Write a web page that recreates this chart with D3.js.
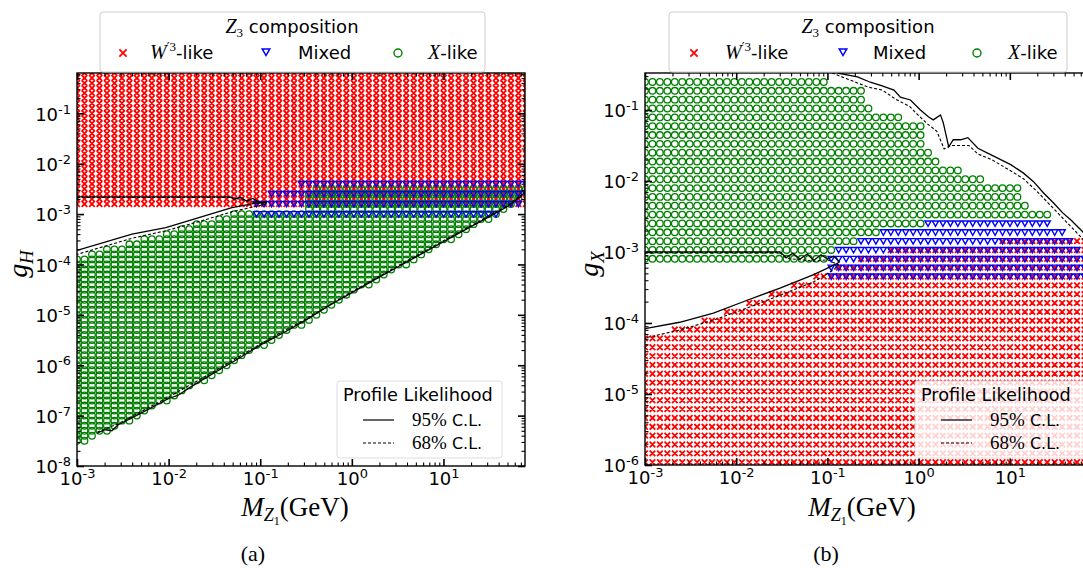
<!DOCTYPE html>
<html>
<head>
<meta charset="utf-8">
<script src="https://cdn.jsdelivr.net/npm/d3@7"></script>
<style>
  body { margin: 0; background: #fff; }
  svg { display: block; }
</style>
</head>
<body>
<svg width="1083" height="568"></svg>
<script>
// ---- scan lattice (log10 values) ----
var massExp = [-3, 1.9];          // log10 M_Z1 / GeV, first and last scan column
var massCols = 61;
var couplingRowsA = {from: -7.6, to: -0.2, step: 0.1};
var couplingRowsB = {from: -5.96, to: -0.6, step: 0.1245};

// ---- panel (a): region edges, [log10 M, log10 gH] ----
var aWLow   = [[-3.05, -2.85], [1.95, -2.85]];
var aWHigh  = [[-3.05, -0.15], [1.95, -0.15]];
var aXLow   = [[-3.05, -7.62], [-2.85, -7.52], [-2.78, -7.4], [-2.6, -7.28], [-2.0, -6.7], [-1.5, -6.2],
               [-1.0, -5.65], [-0.5, -5.15], [0, -4.6], [0.5, -4.1], [1.0, -3.6], [1.5, -3.1],
               [1.7, -2.9], [1.85, -2.68], [1.95, -2.5]];
var aXHigh  = [[-3.05, -3.88], [-2.4, -3.55], [-1.7, -3.2], [-1.3, -3.0], [-0.95, -2.9], [-0.5, -2.9],
               [-0.45, -2.4], [1.95, -2.4]];
var aMixLow  = [[-1.1, -3.05], [1.35, -3.05], [1.6, -3.0], [1.75, -2.9], [1.95, -2.75]];
var aMixHigh = [[-1.1, -2.75], [-0.95, -2.62], [-0.7, -2.5], [-0.5, -2.35], [1.95, -2.35]];

var aCL95 = [[-3, -2.66], [-1.33, -2.66], [-1.28, -2.71], [-1.22, -2.66], [-1.15, -2.74], [-1.08, -2.69],
             [-1.0, -2.78], [-0.93, -2.76], [-1.01, -2.77], [-1.31, -2.87], [-1.67, -3.07],
             [-2.03, -3.27], [-2.4, -3.4], [-3, -3.72]];
var aCL68 = [[-3, -2.67], [-1.33, -2.67], [-1.2, -2.71], [-1.0, -2.8], [-0.93, -2.8], [-1.3, -2.95],
             [-1.67, -3.15], [-2.03, -3.33], [-2.4, -3.48], [-3, -3.8]];
var aCL95Low = [[-2.78, -7.35], [-2.7, -7.28], [-2.62, -7.3], [-2.55, -7.18], [-2.3, -6.95], [-2.0, -6.66],
                [-1.9, -6.6], [-1.75, -6.42], [-1.5, -6.15], [-1.25, -5.88], [-1.0, -5.6], [-0.75, -5.36],
                [-0.5, -5.1], [-0.25, -4.82], [0.0, -4.56], [0.25, -4.3], [0.5, -4.05], [0.75, -3.8],
                [1.0, -3.55], [1.25, -3.3], [1.5, -3.05], [1.7, -2.85], [1.85, -2.64], [1.9, -2.55]];
var aCL68Low = [[-2.78, -7.33], [-2.55, -7.16], [-2.0, -6.63], [-1.5, -6.12], [-1.0, -5.58], [-0.5, -5.08],
                [0.0, -4.54], [0.5, -4.03], [1.0, -3.53], [1.5, -3.03], [1.7, -2.83], [1.85, -2.62], [1.9, -2.53]];

// ---- panel (b): [log10 M, log10 gX] ----
var bWLow   = [[-3.05, -6.1], [1.95, -6.1]];
var bWHigh  = [[-3.05, -4.18], [-2.62, -4.06], [-2.29, -3.94], [-2.14, -3.82], [-1.81, -3.68], [-1.55, -3.56],
               [-1.37, -3.45], [-1.15, -3.33], [-0.89, -3.2], [-0.58, -3.07], [-0.34, -2.95], [0.85, -2.95],
               [0.9, -2.82], [1.95, -2.82]];
var bXLow   = [[-3.05, -3.15], [-0.97, -3.15], [-0.95, -3.03], [-0.89, -3.03], [-0.87, -2.9], [-0.64, -2.9],
               [-0.62, -2.77], [-0.4, -2.77], [-0.38, -2.65], [0.08, -2.65], [0.1, -2.52], [1.95, -2.52]];
var bXHigh  = [[-3.05, -0.5], [-1.02, -0.5], [-0.95, -0.72], [-0.62, -0.72], [-0.58, -0.97], [-0.53, -0.97],
               [-0.48, -1.1], [-0.2, -1.1], [-0.15, -1.22], [0.04, -1.22], [0.09, -1.48], [0.16, -1.48],
               [0.21, -1.73], [0.44, -1.73], [0.49, -1.86], [0.66, -1.86], [0.7, -1.99], [0.87, -1.99],
               [0.92, -2.1], [1.09, -2.1], [1.14, -2.23], [1.2, -2.23], [1.25, -2.37], [1.37, -2.37],
               [1.42, -2.48], [1.48, -2.48], [1.53, -2.61], [1.56, -2.61]];
var bMixLow  = [[-0.97, -3.4], [1.95, -3.4]];
var bMixHigh = [[-0.97, -3.05], [-0.93, -2.95], [-0.66, -2.95], [-0.64, -2.82], [-0.42, -2.82], [-0.4, -2.7],
                [0.06, -2.7], [0.08, -2.57], [1.45, -2.57], [1.5, -2.7], [1.6, -2.7], [1.64, -2.82],
                [1.7, -2.82], [1.76, -2.95], [1.8, -2.95], [1.85, -3.05], [1.95, -3.05]];

var bCL95 = [[-0.89, -0.48], [-0.67, -0.535], [-0.53, -0.61], [-0.4, -0.66], [-0.27, -0.72], [-0.2, -0.82],
             [-0.09, -0.86], [0.02, -1.0], [0.11, -1.1], [0.16, -1.14], [0.24, -1.07], [0.27, -1.18],
             [0.33, -1.52], [0.38, -1.42], [0.46, -1.42], [0.54, -1.39], [0.65, -1.54], [0.79, -1.63],
             [0.9, -1.7], [1.01, -1.77], [1.15, -1.89], [1.26, -2.01], [1.37, -2.17], [1.48, -2.31],
             [1.58, -2.45], [1.67, -2.55], [1.78, -2.69], [1.9, -2.85]];
var bCL68 = [[-0.95, -0.48], [-0.75, -0.58], [-0.55, -0.68], [-0.4, -0.72], [-0.25, -0.85], [-0.1, -0.95],
             [0.0, -1.08], [0.1, -1.2], [0.2, -1.3], [0.28, -1.55], [0.35, -1.5], [0.55, -1.5], [0.65, -1.62],
             [0.8, -1.7], [1.0, -1.85], [1.15, -1.97], [1.3, -2.15], [1.45, -2.35], [1.6, -2.55],
             [1.75, -2.75], [1.9, -2.95]];
var bCL95Low = [[-3, -3.0], [-1.52, -3.0], [-1.45, -3.08], [-1.38, -3.02], [-1.3, -3.1], [-1.22, -3.03],
                [-1.15, -3.12], [-1.07, -3.04], [-1.0, -3.1], [-0.93, -3.06], [-0.87, -3.14], [-0.89, -3.16],
                [-0.97, -3.21], [-1.15, -3.32], [-1.52, -3.51], [-1.88, -3.68], [-2.25, -3.86],
                [-2.62, -3.99], [-3, -4.08]];
var bCL68Low = [[-3, -3.01], [-1.52, -3.01], [-1.45, -3.09], [-1.3, -3.11], [-1.15, -3.13], [-1.0, -3.11],
                [-0.88, -3.18], [-0.93, -3.25], [-1.15, -3.42], [-1.52, -3.61], [-1.88, -3.79],
                [-2.25, -3.96], [-2.62, -4.1], [-3, -4.21]];

var svg = d3.select('svg');

var red = '#ff0000', blue = '#0000ff', green = '#008000';
var sans = 'DejaVu Sans', serif = 'Liberation Serif';

// linear read of an edge polyline at x, null outside it
function edgeAt(poly, x) {
    if (x < poly[0][0] || x > poly[poly.length - 1][0]) return null;
    for (var i = 0; i < poly.length - 1; i++) {
        var p = poly[i], q = poly[i + 1];
        if (x >= p[0] && x <= q[0]) {
            return q[0] === p[0] ? p[1] : p[1] + (q[1] - p[1]) * (x - p[0]) / (q[0] - p[0]);
        }
    }
    return null;
}

function lattice(rows) {
    var xs = d3.range(massCols).map(function(i){ return massExp[0] + i * (massExp[1] - massExp[0]) / (massCols - 1); });
    var ys = d3.range(rows.from, rows.to + 1e-6, rows.step);
    return d3.cross(xs, ys);
}

function region(grid, low, high) {
    return grid.filter(function(d){
        var lo = edgeAt(low, d[0]), hi = edgeAt(high, d[0]);
        return lo !== null && hi !== null && d[1] >= lo && d[1] <= hi;
    });
}

function crossPath(cx, cy, s) {
    return 'M' + (cx - s) + ',' + (cy - s) + 'L' + (cx + s) + ',' + (cy + s) +
           'M' + (cx - s) + ',' + (cy + s) + 'L' + (cx + s) + ',' + (cy - s);
}
function triPath(cx, cy, s) {
    return 'M' + (cx - s) + ',' + (cy - s * 0.8) + 'L' + (cx + s) + ',' + (cy - s * 0.8) +
           'L' + cx + ',' + (cy + s * 0.95) + 'Z';
}

// "10" with a raised exponent
function powerLabels(sel) {
    sel.each(function(d){
        var t = d3.select(this);
        var e = Math.round(Math.log10(d));
        t.text(null);
        t.append('tspan').text('10');
        t.append('tspan').attr('dy', '-0.55em').attr('font-size', '0.72em').text(e);
    });
}

function drawPanel(cfg) {
    var x = d3.scaleLog().domain([1e-3, Math.pow(10, 1.89)]).range([cfg.left, cfg.right]);
    var y = d3.scaleLog().domain([Math.pow(10, cfg.yExp[0]), Math.pow(10, cfg.yExp[1])]).range([cfg.bottom, cfg.top]);
    var px = function(d){ return x(Math.pow(10, d[0])); };
    var py = function(d){ return y(Math.pow(10, d[1])); };

    var g = svg.append('g');
    svg.append('clipPath').attr('id', 'clip' + cfg.id).append('rect')
        .attr('x', cfg.left).attr('y', cfg.top)
        .attr('width', cfg.right - cfg.left).attr('height', cfg.bottom - cfg.top);

    var plot = g.append('g').attr('clip-path', 'url(#clip' + cfg.id + ')');
    var grid = lattice(cfg.rows);

    plot.append('path')
        .attr('d', region(grid, cfg.wLow, cfg.wHigh).map(function(d){ return crossPath(px(d), py(d), cfg.xs); }).join(''))
        .attr('fill', 'none').attr('stroke', red).attr('stroke-width', cfg.xw);

    plot.selectAll('circle.xlike')
        .data(region(grid, cfg.xLow, cfg.xHigh))
        .enter().append('circle')
        .attr('cx', px).attr('cy', py).attr('r', 3.3)
        .attr('fill', 'none').attr('stroke', green).attr('stroke-width', 1.3);

    var mixGrid = cfg.mixRows ? lattice(cfg.mixRows) : grid;
    plot.append('path')
        .attr('d', region(mixGrid, cfg.mixLow, cfg.mixHigh).map(function(d){ return triPath(px(d), py(d), 3.1); }).join(''))
        .attr('fill', 'none').attr('stroke', blue).attr('stroke-width', 1.4);

    var line = d3.line().x(px).y(py);
    cfg.solid.forEach(function(c){
        plot.append('path').attr('d', line(c)).attr('fill', 'none')
            .attr('stroke', '#000').attr('stroke-width', 1.3);
    });
    cfg.dashed.forEach(function(c){
        plot.append('path').attr('d', line(c)).attr('fill', 'none')
            .attr('stroke', '#000').attr('stroke-width', 1.1).attr('stroke-dasharray', '3,2');
    });

    // ticks, inward on all four sides
    var xMajor = [1e-3, 1e-2, 1e-1, 1, 10];
    var xMinor = [];
    xMajor.forEach(function(m){ for (var k = 2; k <= 9; k++) if (m * k <= x.domain()[1]) xMinor.push(m * k); });
    var yMajor = d3.range(cfg.yExp[0], Math.floor(cfg.yExp[1]) + 1).map(function(e){ return Math.pow(10, e); });
    var yMinor = [];
    yMajor.forEach(function(m){ for (var k = 2; k <= 9; k++) if (m * k <= y.domain()[1]) yMinor.push(m * k); });

    function ticks(axis, vals, len, w, labels) {
        var a = g.append('g').call(axis.tickValues(vals).tickSizeInner(-len).tickSizeOuter(0).tickPadding(6)
            .tickFormat(labels ? null : function(){ return ''; }));
        a.select('.domain').remove();
        a.selectAll('line').attr('stroke-width', w);
        a.selectAll('text').attr('font-family', sans).attr('font-size', 18).attr('fill', '#000');
        return a;
    }
    var bx = ticks(d3.axisBottom(x), xMajor, 7, 1.6, true).attr('transform', 'translate(0,' + cfg.bottom + ')');
    bx.selectAll('.tick text').call(powerLabels).attr('dy', '0.72em');
    ticks(d3.axisBottom(x), xMinor, 3.5, 1.1, false).attr('transform', 'translate(0,' + cfg.bottom + ')');
    ticks(d3.axisTop(x), xMajor, 7, 1.6, false).attr('transform', 'translate(0,' + cfg.top + ')');
    ticks(d3.axisTop(x), xMinor, 3.5, 1.1, false).attr('transform', 'translate(0,' + cfg.top + ')');

    var ly = ticks(d3.axisLeft(y), yMajor, 7, 1.6, true).attr('transform', 'translate(' + cfg.left + ',0)');
    ly.selectAll('.tick text').call(powerLabels).attr('dy', '0.38em');
    ticks(d3.axisLeft(y), yMinor, 3.5, 1.1, false).attr('transform', 'translate(' + cfg.left + ',0)');
    ticks(d3.axisRight(y), yMajor, 7, 1.6, false).attr('transform', 'translate(' + cfg.right + ',0)');
    ticks(d3.axisRight(y), yMinor, 3.5, 1.1, false).attr('transform', 'translate(' + cfg.right + ',0)');

    g.append('rect')
        .attr('x', cfg.left).attr('y', cfg.top)
        .attr('width', cfg.right - cfg.left).attr('height', cfg.bottom - cfg.top)
        .attr('fill', 'none').attr('stroke', '#000').attr('stroke-width', 1.4);

    // axis titles
    var xl = g.append('text').attr('x', (cfg.left + cfg.right) / 2 - 6).attr('y', 516)
        .attr('text-anchor', 'middle').attr('font-family', serif).attr('font-size', 27);
    xl.append('tspan').attr('font-style', 'italic').text('M');
    xl.append('tspan').attr('font-style', 'italic').attr('font-size', 18).attr('dy', 5).text('Z');
    xl.append('tspan').attr('font-size', 12).attr('dy', 4).text('1');
    xl.append('tspan').attr('dy', -9).text('(GeV)');

    var yl = g.append('text').attr('transform', 'translate(' + cfg.yLabelX + ',264) rotate(-90)')
        .attr('text-anchor', 'middle').attr('font-family', serif).attr('font-size', 28);
    yl.append('tspan').attr('font-style', 'italic').text('g');
    yl.append('tspan').attr('font-style', 'italic').attr('font-size', 19).attr('dy', 6).text(cfg.yName);

    g.append('text').attr('x', cfg.caption).attr('y', 561).attr('text-anchor', 'middle')
        .attr('font-family', serif).attr('font-size', 22).text(cfg.id === 'a' ? '(a)' : '(b)');

    // composition legend
    var L = cfg.legend;
    g.append('rect').attr('x', L.box[0]).attr('y', 12).attr('width', L.box[1] - L.box[0]).attr('height', 60)
        .attr('rx', 3).attr('fill', '#fff').attr('fill-opacity', 0.9).attr('stroke', '#cccccc');
    var tt = g.append('text').attr('x', L.title).attr('y', 33).attr('text-anchor', 'middle')
        .attr('font-family', sans).attr('font-size', 18);
    tt.append('tspan').attr('font-family', serif).attr('font-style', 'italic').attr('font-size', 20).text('Z');
    tt.append('tspan').attr('font-family', serif).attr('font-size', 13).attr('dy', 4).text('3');
    tt.append('tspan').attr('dy', -4).text(' composition');

    g.append('path').attr('d', crossPath(L.marks[0], 53, 3.6)).attr('stroke', red).attr('stroke-width', 1.8);
    g.append('path').attr('d', triPath(L.marks[1], 52, 3.8)).attr('fill', 'none').attr('stroke', blue).attr('stroke-width', 1.5);
    g.append('circle').attr('cx', L.marks[2]).attr('cy', 53).attr('r', 4).attr('fill', 'none')
        .attr('stroke', green).attr('stroke-width', 1.4);

    var t1 = g.append('text').attr('x', L.texts[0]).attr('y', 59).attr('font-family', sans).attr('font-size', 18);
    t1.append('tspan').attr('font-family', serif).attr('font-style', 'italic').attr('font-size', 20).text('W');
    t1.append('tspan').attr('font-family', sans).attr('font-size', 12).attr('dy', -8).text('\u2032');
    t1.append('tspan').attr('font-family', serif).attr('font-size', 13).text('3');
    t1.append('tspan').attr('dy', 8).text('-like');
    g.append('text').attr('x', L.texts[1]).attr('y', 59).attr('font-family', sans).attr('font-size', 18).text('Mixed');
    var t3 = g.append('text').attr('x', L.texts[2]).attr('y', 59).attr('font-family', sans).attr('font-size', 18);
    t3.append('tspan').attr('font-family', serif).attr('font-style', 'italic').attr('font-size', 20).text('X');
    t3.append('tspan').text('-like');

    // profile likelihood legend
    var P = cfg.profile;
    g.append('rect').attr('x', P[0]).attr('y', 381).attr('width', P[1] - P[0]).attr('height', 77)
        .attr('rx', 3).attr('fill', '#fff').attr('fill-opacity', 0.82).attr('stroke', '#dddddd');
    g.append('text').attr('x', P[0] + 6).attr('y', 401).attr('font-family', sans).attr('font-size', 17.7)
        .text('Profile Likelihood');
    [['95%', 420, null], ['68%', 443, '3,2']].forEach(function(r){
        g.append('line').attr('x1', P[0] + 26).attr('x2', P[0] + 57).attr('y1', r[1]).attr('y2', r[1])
            .attr('stroke', '#000').attr('stroke-width', 1.2).attr('stroke-dasharray', r[2]);
        var t = g.append('text').attr('x', P[0] + 75).attr('y', r[1] + 6).attr('font-family', serif).attr('font-size', 19);
        t.append('tspan').text(r[0]);
        t.append('tspan').attr('font-family', sans).attr('font-size', 16).text(' C.L.');
    });
}

drawPanel({
    id: 'a', left: 77, right: 525, top: 73, bottom: 466, yExp: [-8, -0.2],
    rows: couplingRowsA, mixRows: {from: -3.0, to: -2.3, step: 0.2}, xs: 2.8, xw: 1.8,
    wLow: aWLow, wHigh: aWHigh, xLow: aXLow, xHigh: aXHigh, mixLow: aMixLow, mixHigh: aMixHigh,
    solid: [aCL95, aCL95Low], dashed: [aCL68, aCL68Low],
    yName: 'H', yLabelX: 27, caption: 253,
    legend: {box: [100, 485], title: 292, marks: [123, 266, 398], texts: [150, 298, 428]},
    profile: [337, 502]
});

drawPanel({
    id: 'b', left: 645, right: 1091, top: 73, bottom: 465, yExp: [-6, -0.48],
    rows: couplingRowsB, xs: 2.8, xw: 1.8,
    wLow: bWLow, wHigh: bWHigh, xLow: bXLow, xHigh: bXHigh, mixLow: bMixLow, mixHigh: bMixHigh,
    solid: [bCL95, bCL95Low], dashed: [bCL68, bCL68Low],
    yName: 'X', yLabelX: 598, caption: 826,
    legend: {box: [669, 1067], title: 868, marks: [694, 843, 977], texts: [725, 873, 1008]},
    profile: [915, 1100]
});
</script>
</body>
</html>
